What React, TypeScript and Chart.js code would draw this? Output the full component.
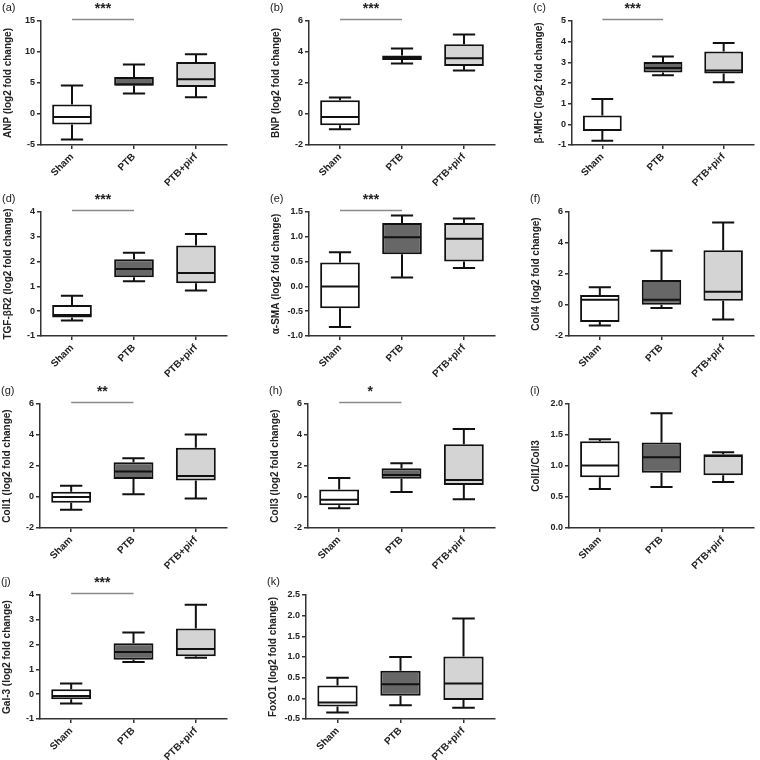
import React, { useEffect, useRef } from 'react';
import { Chart, registerables } from 'chart.js';
Chart.register(...registerables);

const categories = ['Sham', 'PTB', 'PTB+pirf'];
const panelLabels = ['(a)', '(b)', '(c)', '(d)', '(e)', '(f)', '(g)', '(h)', '(i)', '(j)', '(k)'];
const yTitles = [
  'ANP (log2 fold change)',
  'BNP (log2 fold change)',
  'β-MHC (log2 fold change)',
  'TGF-βR2 (log2 fold change)',
  'α-SMA (log2 fold change)',
  'Coll4 (log2 fold change)',
  'Coll1 (log2 fold change)',
  'Coll3 (log2 fold change)',
  'Coll1/Coll3',
  'Gal-3 (log2 fold change)',
  'FoxO1 (log2 fold change)',
];
const yMin = [-5, -2, -1, -1, -1, -2, -2, -2, 0, -1, -0.5];
const yMax = [15, 6, 5, 4, 1.5, 6, 6, 6, 2, 4, 2.5];
const yStep = [5, 2, 1, 1, 0.5, 2, 2, 2, 0.5, 1, 0.5];
const yDecimals = [0, 0, 0, 0, 1, 0, 0, 0, 1, 0, 1];
const significance = ['***', '***', '***', '***', '***', '', '**', '*', '', '***', ''];

// box statistics per panel: [Sham, PTB, PTB+pirf]
const whiskerLow = [
  [-4.1, 3.3, 2.7],
  [-0.99, 3.26, 2.81],
  [-0.8, 2.38, 2.04],
  [-0.38, 1.21, 0.83],
  [-0.82, 0.18, 0.37],
  [-1.33, -0.19, -0.94],
  [-0.82, 0.17, -0.09],
  [-0.73, 0.32, -0.15],
  [0.63, 0.66, 0.74],
  [-0.38, 1.3, 1.47],
  [-0.34, -0.17, -0.23],
];
const quartile1 = [
  [-1.7, 4.55, 4.35],
  [-0.73, 3.48, 3.09],
  [-0.32, 2.51, 2.46],
  [-0.25, 1.37, 1.13],
  [-0.44, 0.65, 0.5],
  [-1.09, 0.02, 0.28],
  [-0.37, 1.16, 1.06],
  [-0.54, 1.18, 0.77],
  [0.82, 0.89, 0.85],
  [-0.2, 1.39, 1.53],
  [-0.2, 0.06, -0.04],
];
const medians = [
  [-0.5, 4.8, 5.6],
  [-0.19, 3.63, 3.6],
  [-0.27, 2.72, 2.6],
  [-0.15, 1.7, 1.54],
  [0, 0.99, 0.96],
  [0.34, 0.34, 0.86],
  [0, 1.64, 1.36],
  [-0.17, 1.42, 1.1],
  [1.01, 1.14, 1.16],
  [-0.07, 1.7, 1.82],
  [-0.1, 0.34, 0.36],
];
const quartile3 = [
  [1.55, 5.95, 8.4],
  [0.88, 3.78, 4.5],
  [0.43, 3.02, 3.52],
  [0.25, 2.09, 2.65],
  [0.48, 1.28, 1.28],
  [0.64, 1.61, 3.54],
  [0.34, 2.24, 3.17],
  [0.49, 1.85, 3.4],
  [1.4, 1.38, 1.19],
  [0.2, 2.05, 2.65],
  [0.31, 0.67, 1.01],
];
const whiskerHigh = [
  [4.6, 8.0, 9.65],
  [1.07, 4.23, 5.13],
  [1.22, 3.28, 3.94],
  [0.62, 2.36, 3.11],
  [0.69, 1.43, 1.37],
  [1.14, 3.5, 5.32],
  [0.73, 2.5, 4.03],
  [1.23, 2.17, 4.39],
  [1.43, 1.85, 1.22],
  [0.43, 2.49, 3.61],
  [0.5, 1.0, 1.93],
];

// layout (positions, not data)
const colLeft = [0, 253, 506];
const colWidth = [253, 253, 254];
const rowTop = [0, 191, 383, 574];
const panelAxisX = [41, 56, 66, 41, 56, 63, 40, 55, 63, 40, 53];
const colRight = [227, 242, 248];
const PANEL_H = 190;
const FONT = "'Liberation Sans', Arial, sans-serif";
const fills = ['#ffffff', '#676767', '#d4d4d4'];

const boxExtras = {
  id: 'boxExtras',
  afterDatasetsDraw(chart: any, _args: any, opts: any) {
    const p = opts.index;
    const ctx = chart.ctx;
    const y = chart.scales.y;
    const meta = chart.getDatasetMeta(0);
    ctx.save();
    ctx.strokeStyle = '#111';
    ctx.lineWidth = 2;
    ctx.lineCap = 'butt';
    meta.data.forEach((bar: any, i: number) => {
      const x = bar.x;
      const w = bar.width;
      const pMax = y.getPixelForValue(whiskerHigh[p][i]);
      const pMin = y.getPixelForValue(whiskerLow[p][i]);
      const pQ3 = y.getPixelForValue(quartile3[p][i]);
      const pQ1 = y.getPixelForValue(quartile1[p][i]);
      const pMed = y.getPixelForValue(medians[p][i]);
      const cap = w * 0.28;
      ctx.beginPath();
      ctx.moveTo(x, pQ3);
      ctx.lineTo(x, pMax);
      ctx.moveTo(x - cap, pMax);
      ctx.lineTo(x + cap, pMax);
      ctx.moveTo(x, pQ1);
      ctx.lineTo(x, pMin);
      ctx.moveTo(x - cap, pMin);
      ctx.lineTo(x + cap, pMin);
      ctx.moveTo(x - w / 2 + 1, pMed);
      ctx.lineTo(x + w / 2 - 1, pMed);
      ctx.stroke();
    });
    ctx.restore();
  },
  afterDraw(chart: any, _args: any, opts: any) {
    const p = opts.index;
    const ctx = chart.ctx;
    const area = chart.chartArea;
    const xs = chart.scales.x;
    ctx.save();
    ctx.fillStyle = '#222';
    ctx.font = `11px ${FONT}`;
    ctx.textAlign = 'left';
    ctx.textBaseline = 'middle';
    ctx.fillText(panelLabels[p], area.left - 39, 8);
    if (significance[p]) {
      const x0 = xs.getPixelForValue(0);
      const x1 = xs.getPixelForValue(1);
      const ly = area.top - 1.5;
      ctx.strokeStyle = '#8a8a8a';
      ctx.lineWidth = 1.5;
      ctx.beginPath();
      ctx.moveTo(x0, ly);
      ctx.lineTo(x1, ly);
      ctx.stroke();
      ctx.font = `bold 14px ${FONT}`;
      ctx.textAlign = 'center';
      ctx.textBaseline = 'middle';
      ctx.fillStyle = '#222';
      ctx.fillText(significance[p], (x0 + x1) / 2, 9);
    }
    ctx.restore();
  },
};

function Panel({ index }: { index: number }) {
  const ref = useRef<HTMLCanvasElement>(null);
  const col = index % 3;
  const row = Math.floor(index / 3);
  const w = colWidth[col];
  useEffect(() => {
    if (!ref.current) return;
    const axisX = panelAxisX[index];
    const yScaleWidth = 39;
    const chart = new Chart(ref.current, {
      type: 'bar',
      data: {
        labels: categories,
        datasets: [
          {
            data: categories.map((_, i) => [quartile1[index][i], quartile3[index][i]]) as any,
            backgroundColor: fills,
            borderColor: '#111',
            borderWidth: 2,
            borderSkipped: false,
            categoryPercentage: 1,
            barPercentage: 0.64,
          },
        ],
      },
      plugins: [boxExtras as any],
      options: {
        responsive: false,
        animation: false,
        events: [],
        layout: {
          padding: {
            left: axisX - yScaleWidth,
            right: w - colRight[col],
            top: 21,
            bottom: 0,
          },
        },
        plugins: {
          legend: { display: false },
          tooltip: { enabled: false },
          boxExtras: { index },
        } as any,
        scales: {
          x: {
            type: 'category',
            offset: true,
            afterFit: (s: any) => {
              s.height = PANEL_H - 145;
            },
            grid: {
              offset: false,
              drawOnChartArea: false,
              drawTicks: true,
              tickLength: 4,
              color: '#333',
              lineWidth: 1.5,
            },
            border: { display: true, color: '#333', width: 1.5 },
            ticks: {
              autoSkip: false,
              maxRotation: 45,
              minRotation: 45,
              padding: 2,
              color: '#222',
              font: { family: FONT, size: 10, weight: 'bold' },
            },
          },
          y: {
            type: 'linear',
            min: yMin[index],
            max: yMax[index],
            afterFit: (s: any) => {
              s.width = yScaleWidth;
            },
            grid: {
              drawOnChartArea: false,
              drawTicks: true,
              tickLength: 4,
              color: '#333',
              lineWidth: 1.5,
            },
            border: { display: true, color: '#333', width: 1.5 },
            ticks: {
              stepSize: yStep[index],
              padding: 2,
              color: '#222',
              font: { family: FONT, size: 9, weight: 'bold' },
              callback: (v: any) => Number(v).toFixed(yDecimals[index]),
            },
            title: {
              display: true,
              text: yTitles[index],
              color: '#222',
              padding: { top: 0, bottom: 0 },
              font: { family: FONT, size: 10, weight: 'bold' },
            },
          },
        },
      } as any,
    });
    return () => chart.destroy();
  }, [index]);
  return (
    <canvas
      ref={ref}
      width={w}
      height={PANEL_H}
      style={{ position: 'absolute', left: colLeft[col], top: rowTop[row], width: w, height: PANEL_H }}
    />
  );
}

export default function App() {
  return (
    <div style={{ position: 'absolute', left: 0, top: 0, width: 760, height: 760, background: '#fff' }}>
      {panelLabels.map((_, i) => (
        <Panel key={i} index={i} />
      ))}
    </div>
  );
}
